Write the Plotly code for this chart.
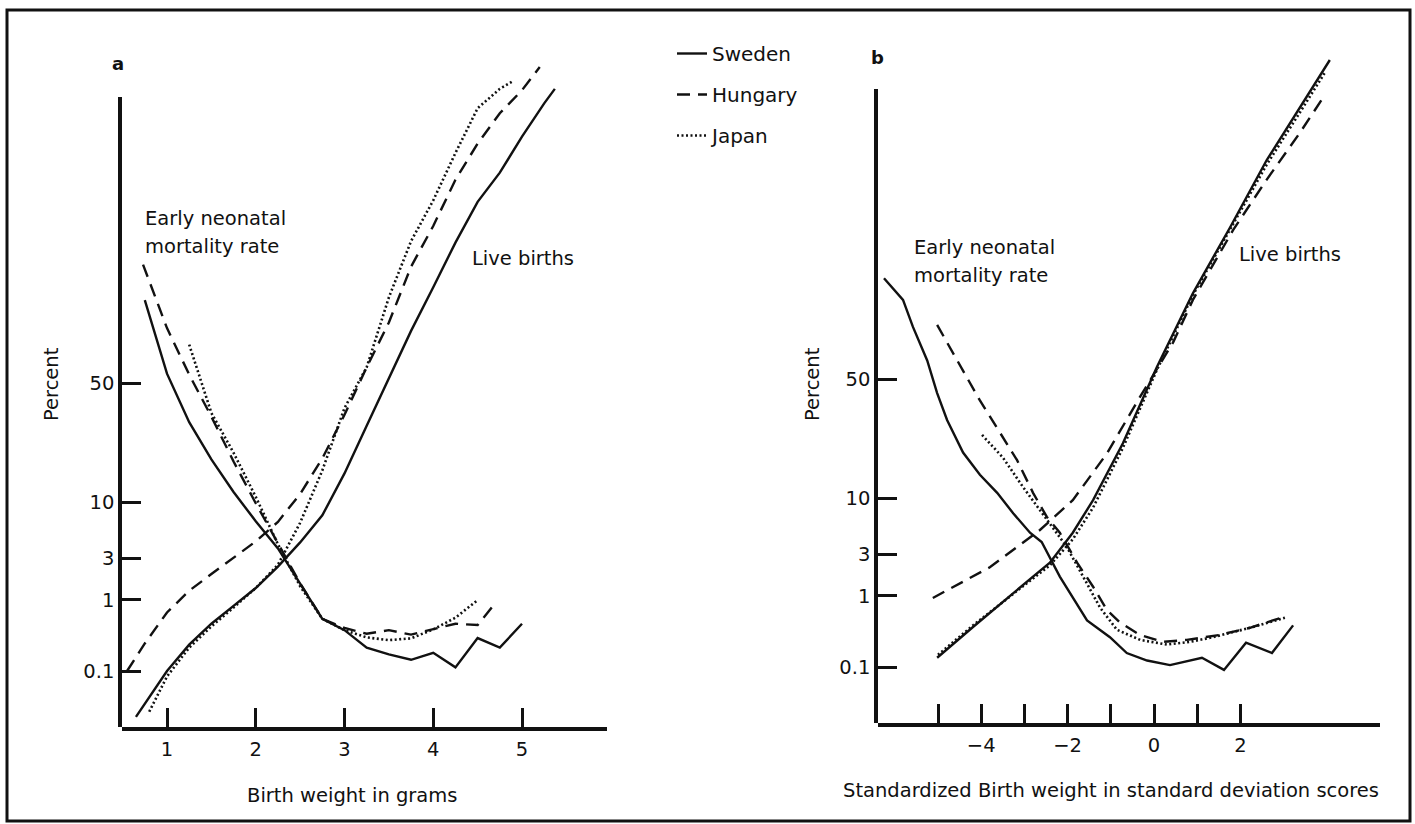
import plotly.graph_objects as go
from statistics import NormalDist

W, H = 1415, 824
_nd = NormalDist()


def probit(vals):
    return [_nd.inv_cdf(v / 100.0) for v in vals]


# ---------------- DATA ----------------
# Panel a: birth weight (kg, labelled "grams"), percent on probit scale
tick_pct = [0.1, 1, 3, 10, 50]
tick_pct_text = ["0.1", "1", "3", "10", "50"]
x_ticks_a = [1, 2, 3, 4, 5]
x_ticks_b = [-5, -4, -3, -2, -1, 0, 1, 2]
x_ticks_b_text = ["", "\u22124", "", "\u22122", "", "0", "", "2"]

bw_lb_swe = [0.65, 1.0, 1.25, 1.5, 1.75, 2.0, 2.25, 2.5, 2.75, 3.0, 3.25, 3.5, 3.75, 4.0, 4.25, 4.5, 4.75, 5.0, 5.25, 5.37]
lb_swe_a = [0.017, 0.10, 0.25, 0.49, 0.84, 1.39, 2.44, 4.36, 7.78, 16.6, 32.3, 52.0, 71.2, 84.8, 93.4, 97.4, 98.8, 99.59, 99.865, 99.92]

bw_lb_hun = [0.55, 0.75, 1.0, 1.25, 1.5, 1.75, 2.0, 2.25, 2.5, 2.75, 3.0, 3.25, 3.5, 3.75, 4.0, 4.25, 4.5, 4.75, 5.0, 5.2]
lb_hun_a = [0.10, 0.26, 0.69, 1.29, 2.02, 3.07, 4.46, 6.81, 11.7, 20.9, 36.7, 56.7, 74.2, 89.4, 95.4, 98.54, 99.49, 99.81, 99.916, 99.965]

bw_lb_jpn = [0.8, 1.0, 1.25, 1.5, 1.75, 2.0, 2.25, 2.5, 2.75, 3.0, 3.25, 3.5, 3.75, 4.0, 4.25, 4.5, 4.75, 4.9]
lb_jpn_a = [0.021, 0.082, 0.226, 0.45, 0.80, 1.39, 2.56, 6.68, 17.4, 39.4, 56.7, 82.1, 93.6, 97.5, 99.32, 99.84, 99.92, 99.94]

bw_en_swe = [0.75, 1.0, 1.25, 1.5, 1.75, 2.0, 2.25, 2.5, 2.75, 3.0, 3.25, 3.5, 3.75, 4.0, 4.25, 4.5, 4.75, 5.0]
en_swe_a = [81.3, 54.0, 33.7, 20.6, 12.1, 6.9, 3.8, 1.58, 0.57, 0.40, 0.226, 0.18, 0.149, 0.19, 0.114, 0.31, 0.226, 0.49]

bw_en_hun = [0.73, 1.0, 1.25, 1.5, 1.75, 2.0, 2.25, 2.5, 2.75, 3.0, 3.25, 3.5, 3.75, 4.0, 4.25, 4.5, 4.7]
en_hun_a = [89.8, 72.2, 53.6, 35.9, 20.0, 9.85, 4.27, 1.58, 0.57, 0.43, 0.357, 0.40, 0.347, 0.41, 0.49, 0.47, 0.91]

bw_en_jpn = [1.25, 1.5, 1.75, 2.0, 2.25, 2.5, 2.75, 3.0, 3.25, 3.5, 3.75, 4.0, 4.25, 4.5]
en_jpn_a = [66.0, 37.4, 22.7, 11.1, 4.18, 1.46, 0.57, 0.40, 0.317, 0.29, 0.307, 0.41, 0.59, 0.99]

# Panel b: standardized birth weight (SD scores)
sd_lb_swe = [-5.02, -4.19, -2.80, -2.41, -1.88, -1.41, -0.72, 0.07, 0.90, 1.76, 2.61, 3.38, 4.07]
lb_swe_b = [0.139, 0.39, 1.70, 2.44, 4.95, 9.68, 24.5, 55.2, 82.1, 94.8, 99.06, 99.82, 99.969]

sd_lb_hun = [-5.12, -3.80, -2.64, -1.88, -1.09, -0.32, 0.44, 0.90, 1.83, 2.61, 3.38, 3.96]
lb_hun_b = [0.94, 2.17, 5.26, 9.68, 21.2, 42.5, 65.2, 80.2, 94.5, 98.38, 99.59, 99.886]

sd_lb_jpn = [-5.0, -4.19, -2.80, -2.41, -1.88, -1.41, -0.72, 0.07, 0.90, 1.76, 2.61, 3.38, 3.96]
lb_jpn_b = [0.154, 0.41, 1.62, 2.28, 4.27, 8.38, 23.0, 54.0, 81.6, 94.5, 98.93, 99.79, 99.95]

sd_en_swe = [-6.25, -5.81, -5.58, -5.25, -5.02, -4.79, -4.42, -4.03, -3.63, -3.26, -2.87, -2.60, -2.18, -1.55, -1.02, -0.63, -0.16, 0.37, 1.11, 1.62, 2.13, 2.73, 3.22]
en_swe_b = [86.0, 80.2, 71.2, 57.9, 44.0, 33.0, 21.5, 15.2, 11.1, 7.49, 4.95, 4.01, 1.70, 0.48, 0.28, 0.164, 0.126, 0.107, 0.139, 0.090, 0.233, 0.164, 0.41]

sd_en_hun = [-5.02, -4.56, -4.03, -3.56, -3.17, -2.80, -2.48, -2.18, -1.78, -1.41, -1.09, -0.79, -0.32, 0.21, 0.76, 1.5, 2.22, 3.03]
en_hun_b = [71.9, 57.9, 40.9, 28.1, 19.2, 11.1, 6.94, 4.95, 2.44, 1.29, 0.66, 0.45, 0.30, 0.24, 0.256, 0.30, 0.38, 0.54]

sd_en_jpn = [-3.98, -3.50, -3.03, -2.64, -2.34, -2.02, -1.64, -1.25, -0.86, -0.32, 0.30, 0.83, 1.37, 2.22, 3.03]
en_jpn_b = [27.4, 20.0, 12.3, 7.93, 5.59, 3.59, 1.70, 0.71, 0.357, 0.256, 0.219, 0.24, 0.28, 0.38, 0.52]

# ---------------- STYLE / LAYOUT ----------------
FONT = "DejaVu Sans"
INK = "#111111"
FS = 19.5
styles = {
    "Sweden": dict(color=INK, width=2.4, dash="solid"),
    "Hungary": dict(color=INK, width=2.4, dash="13px,8px"),
    "Japan": dict(color=INK, width=2.6, dash="2px,2.5px"),
}


def px_x(px):
    return px / W


def px_y(py):
    return 1 - py / H


fig = go.Figure()


def add(x, p, country, xa, ya, legend=False):
    fig.add_trace(go.Scatter(
        x=x, y=probit(p), mode="lines", line=styles[country], name=country,
        legendgroup=country, showlegend=legend, xaxis=xa, yaxis=ya, hoverinfo="skip"))


add(bw_lb_swe, lb_swe_a, "Sweden", "x", "y", True)
add(bw_lb_hun, lb_hun_a, "Hungary", "x", "y", True)
add(bw_lb_jpn, lb_jpn_a, "Japan", "x", "y", True)
add(bw_en_swe, en_swe_a, "Sweden", "x", "y")
add(bw_en_hun, en_hun_a, "Hungary", "x", "y")
add(bw_en_jpn, en_jpn_a, "Japan", "x", "y")

add(sd_lb_swe, lb_swe_b, "Sweden", "x2", "y2")
add(sd_lb_hun, lb_hun_b, "Hungary", "x2", "y2")
add(sd_lb_jpn, lb_jpn_b, "Japan", "x2", "y2")
add(sd_en_swe, en_swe_b, "Sweden", "x2", "y2")
add(sd_en_hun, en_hun_b, "Hungary", "x2", "y2")
add(sd_en_jpn, en_jpn_b, "Japan", "x2", "y2")

# carrier traces for the visible (shorter) y axes
fig.add_trace(go.Scatter(x=[None], y=[None], xaxis="x", yaxis="y3", showlegend=False, hoverinfo="skip"))
fig.add_trace(go.Scatter(x=[None], y=[None], xaxis="x2", yaxis="y4", showlegend=False, hoverinfo="skip"))

# pixel geometry of the two panels
A_LEFT, A_RIGHT, A_BOTTOM, A_AXTOP, A_DATATOP = 122, 607, 727, 97, 55
A_X0, A_XSCALE, A_Z0, A_ZSCALE = 78.25, 88.75, 383, 93.2
B_LEFT, B_RIGHT, B_BOTTOM, B_AXTOP, B_DATATOP = 878, 1380, 723, 89, 50
B_X0, B_XSCALE, B_Z0, B_ZSCALE = 1154, 43.2, 379, 93.2

tickfont = dict(family=FONT, size=FS, color=INK)
common_x = dict(showline=True, linewidth=3.5, linecolor=INK, ticks="inside", ticklen=19,
                tickwidth=2.5, tickcolor=INK, showgrid=False, zeroline=False, tickfont=tickfont,
                ticklabelstandoff=2)
common_yvis = dict(showline=True, linewidth=3.5, linecolor=INK, ticks="inside", ticklen=19,
                   tickwidth=2.5, tickcolor=INK, showgrid=False, zeroline=False, tickfont=tickfont,
                   tickmode="array", tickvals=probit(tick_pct), ticktext=tick_pct_text)
hidden_y = dict(visible=False, showgrid=False, zeroline=False)

fig.update_layout(
    width=W, height=H, margin=dict(l=0, r=0, t=0, b=0),
    paper_bgcolor="white", plot_bgcolor="rgba(0,0,0,0)",
    font=dict(family=FONT, size=FS, color=INK),
    xaxis=dict(domain=[px_x(A_LEFT), px_x(A_RIGHT)], anchor="y",
               range=[(A_LEFT - A_X0) / A_XSCALE, (A_RIGHT - A_X0) / A_XSCALE],
               tickmode="array", tickvals=x_ticks_a, **common_x),
    yaxis=dict(domain=[px_y(A_BOTTOM), px_y(A_DATATOP)], anchor="x",
               range=[(A_Z0 - A_BOTTOM) / A_ZSCALE, (A_Z0 - A_DATATOP) / A_ZSCALE], **hidden_y),
    yaxis3=dict(domain=[px_y(A_BOTTOM), px_y(A_AXTOP)], anchor="x",
                range=[(A_Z0 - A_BOTTOM) / A_ZSCALE, (A_Z0 - A_AXTOP) / A_ZSCALE], **common_yvis),
    xaxis2=dict(domain=[px_x(B_LEFT), px_x(B_RIGHT)], anchor="y2",
                range=[(B_LEFT - B_X0) / B_XSCALE, (B_RIGHT - B_X0) / B_XSCALE],
                tickmode="array", tickvals=x_ticks_b, ticktext=x_ticks_b_text, **common_x),
    yaxis2=dict(domain=[px_y(B_BOTTOM), px_y(B_DATATOP)], anchor="x2",
                range=[(B_Z0 - B_BOTTOM) / B_ZSCALE, (B_Z0 - B_DATATOP) / B_ZSCALE], **hidden_y),
    yaxis4=dict(domain=[px_y(B_BOTTOM), px_y(B_AXTOP)], anchor="x2",
                range=[(B_Z0 - B_BOTTOM) / B_ZSCALE, (B_Z0 - B_AXTOP) / B_ZSCALE], **common_yvis),
    legend=dict(x=px_x(672), y=px_y(34), xanchor="left", yanchor="top",
                font=dict(family=FONT, size=20, color=INK), bgcolor="rgba(0,0,0,0)",
                tracegroupgap=12, itemwidth=30),
    showlegend=True,
)


def note(text, x, y, size=FS, xanchor="left", angle=0, bold=False):
    fig.add_annotation(text=("<b>%s</b>" % text) if bold else text, x=px_x(x), y=px_y(y),
                       xref="paper", yref="paper", showarrow=False, xanchor=xanchor,
                       yanchor="middle", textangle=angle,
                       font=dict(family=FONT, size=size, color=INK))


note("a", 118, 63, size=18, xanchor="center", bold=True)
note("b", 878, 57, size=18, xanchor="center", bold=True)
note("Percent", 51, 384, angle=-90, xanchor="center")
note("Percent", 812, 384, angle=-90, xanchor="center")
note("Early neonatal", 143, 218)
note("mortality rate", 143, 247)
note("Early neonatal", 912, 248)
note("mortality rate", 912, 275)
note("Live births", 470, 258)
note("Live births", 1343, 255, xanchor="right")
note("Birth weight in grams", 352, 795, xanchor="center")
note("Standardized Birth weight in standard deviation scores", 1111, 790, xanchor="center")

fig.add_shape(type="rect", xref="paper", yref="paper", x0=px_x(7), x1=px_x(1410),
              y0=px_y(821), y1=px_y(10), line=dict(color=INK, width=3))

fig.write_html("out.html", config={"displayModeBar": False},
               post_script="document.body.style.margin='0';")
